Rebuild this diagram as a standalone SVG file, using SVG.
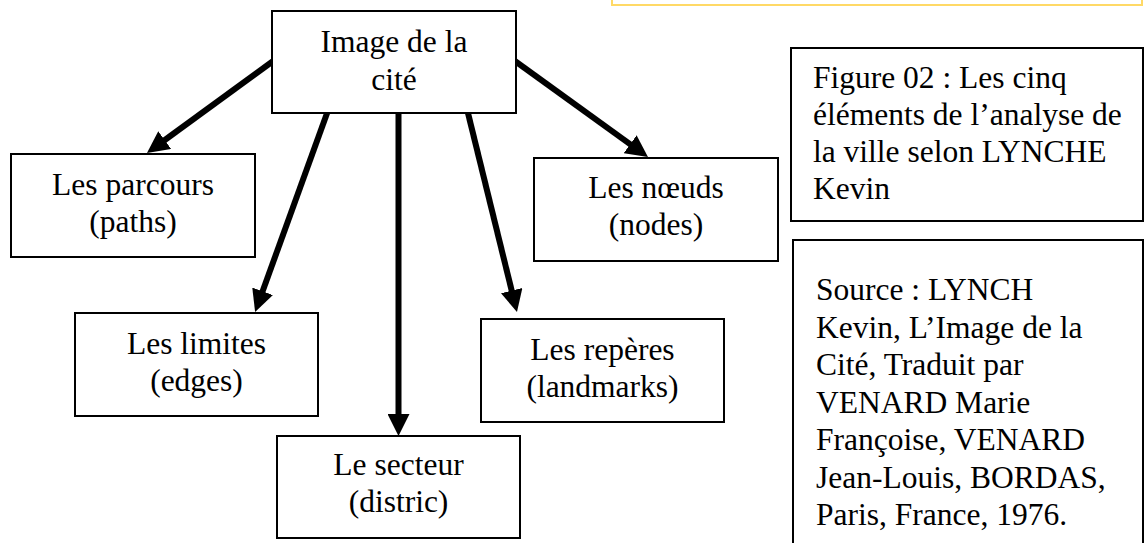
<svg xmlns="http://www.w3.org/2000/svg" width="1146" height="543" viewBox="0 0 1146 543">
  <style>
    .box { fill: #ffffff; stroke: #000000; stroke-width: 2; }
    .lbl { font-family: "Liberation Serif", "Times New Roman", serif; font-size: 31.5px; fill: #000000; }
    .mid { text-anchor: middle; }
    .link { stroke: #000000; stroke-width: 6; fill: none; marker-end: url(#head); }
  </style>
  <defs>
    <marker id="head" markerUnits="userSpaceOnUse" markerWidth="22" markerHeight="22" viewBox="0 0 22 22" refX="5" refY="11" orient="auto">
      <path d="M0,0 L22,11 L0,22 Z" fill="#000000"/>
    </marker>
  </defs>

  <rect width="1146" height="543" fill="#ffffff"/>

  <!-- pale frame along the top edge -->
  <rect x="612" y="-20" width="530" height="25" fill="none" stroke="#FFD966" stroke-width="2"/>

  <g id="connectors">
    <line class="link" x1="280" y1="56" x2="160.7" y2="143"/>
    <line class="link" x1="330" y1="105" x2="260.9" y2="296"/>
    <line class="link" x1="398.5" y1="105" x2="398.5" y2="419"/>
    <line class="link" x1="466" y1="105" x2="512.9" y2="295.5"/>
    <line class="link" x1="508" y1="56" x2="634.2" y2="147.1"/>
  </g>

  <g id="node-image">
    <rect class="box" x="272" y="11" width="244" height="102"/>
    <text class="lbl mid" x="394" y="52">Image de la</text>
    <text class="lbl mid" x="394" y="90">cité</text>
  </g>

  <g id="node-parcours">
    <rect class="box" x="11" y="154" width="244" height="103"/>
    <text class="lbl mid" x="133" y="195">Les parcours</text>
    <text class="lbl mid" x="133" y="232">(paths)</text>
  </g>

  <g id="node-limites">
    <rect class="box" x="75" y="313" width="243" height="103"/>
    <text class="lbl mid" x="196.5" y="354">Les limites</text>
    <text class="lbl mid" x="196.5" y="391">(edges)</text>
  </g>

  <g id="node-secteur">
    <rect class="box" x="277" y="436" width="243" height="102"/>
    <text class="lbl mid" x="398.5" y="475">Le secteur</text>
    <text class="lbl mid" x="398.5" y="512">(distric)</text>
  </g>

  <g id="node-reperes">
    <rect class="box" x="481" y="319" width="243" height="103"/>
    <text class="lbl mid" x="602.5" y="360">Les repères</text>
    <text class="lbl mid" x="602.5" y="397">(landmarks)</text>
  </g>

  <g id="node-noeuds">
    <rect class="box" x="534" y="158" width="244" height="103"/>
    <text class="lbl mid" x="656" y="198">Les nœuds</text>
    <text class="lbl mid" x="656" y="235">(nodes)</text>
  </g>

  <g id="caption">
    <rect class="box" x="791" y="48" width="352" height="173"/>
    <text class="lbl" x="813" y="88">Figure 02 : Les cinq</text>
    <text class="lbl" x="813" y="125">éléments de l’analyse de</text>
    <text class="lbl" x="813" y="162">la ville selon LYNCHE</text>
    <text class="lbl" x="813" y="199">Kevin</text>
  </g>

  <g id="source">
    <rect class="box" x="793" y="240" width="350" height="320"/>
    <text class="lbl" x="816" y="300">Source : LYNCH</text>
    <text class="lbl" x="816" y="337.5">Kevin, L’Image de la</text>
    <text class="lbl" x="816" y="375">Cité, Traduit par</text>
    <text class="lbl" x="816" y="412.5">VENARD Marie</text>
    <text class="lbl" x="816" y="450">Françoise, VENARD</text>
    <text class="lbl" x="816" y="487.5">Jean-Louis, BORDAS,</text>
    <text class="lbl" x="816" y="525">Paris, France, 1976.</text>
  </g>
</svg>
